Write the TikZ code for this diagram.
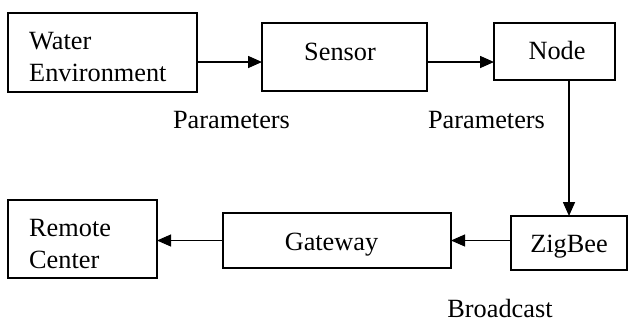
\documentclass[tikz,border=0pt]{standalone}
\usepackage{fontspec}
\setmainfont{Liberation Serif}
\usetikzlibrary{arrows.meta}
\begin{document}
\begin{tikzpicture}[x=1pt,y=-1pt,
  box/.style={draw,line width=1.5pt,inner sep=0pt,outer sep=0pt,minimum width=#1},
  txt/.style={inner sep=0pt,font=\fontsize{26.3}{32}\selectfont},
  conn/.style={line width=1.6pt,-{Triangle[length=14pt,width=12pt]}},
  thinconn/.style={line width=1pt,-{Triangle[length=14pt,width=12pt]}}]
\useasboundingbox (0,0) rectangle (629,322);
% boxes
\node[box=189pt,minimum height=79pt] (water) at (102.5,52.5) {};
\node[box=165pt,minimum height=68pt] (sensor) at (344.5,57) {};
\node[box=121pt,minimum height=57pt] (node) at (554.5,51.5) {};
\node[box=116pt,minimum height=54pt] (zig) at (569,243) {};
\node[box=228pt,minimum height=55pt] (gate) at (337,240.5) {};
\node[box=149pt,minimum height=78pt] (remote) at (82.5,239) {};
% texts
\node[txt,anchor=base west] (t1) at (29,49) {Water};
\node[txt,anchor=base west] (t2) at (29,81) {Environment};
\node[txt,anchor=base] (t3) at (340,60) {Sensor};
\node[txt,anchor=base] (t4) at (557,59) {Node};
\node[txt,anchor=base] (p1) at (231.5,128) {Parameters};
\node[txt,anchor=base] (p2) at (486.5,128) {Parameters};
\node[txt,anchor=base] (t5) at (569,252) {ZigBee};
\node[txt,anchor=base] (t6) at (331.5,250) {Gateway};
\node[txt,anchor=base] (b1) at (500,317) {Broadcast};
\node[txt,anchor=base west] (t7) at (29,236) {Remote};
\node[txt,anchor=base west] (t8) at (29,268) {Center};
% connectors
\draw[conn] (water.east |- 0,62) -- (sensor.west |- 0,62);
\draw[conn] (sensor.east |- 0,62) -- (node.west |- 0,62);
\draw[conn] (node.south -| zig.north) -- (zig.north);
\draw[thinconn] (zig.west |- gate.east) -- (gate.east);
\draw[thinconn] (gate.west) -- (remote.east |- gate.west);
\end{tikzpicture}
\end{document}
